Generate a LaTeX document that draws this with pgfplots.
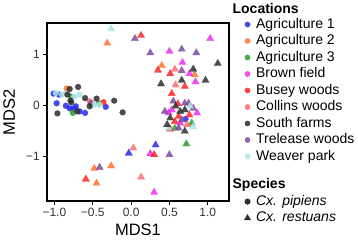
\documentclass[border=0pt]{standalone}
\usepackage{pgfplots}
\pgfplotsset{compat=1.18}
\usepackage{fontspec}
\setmainfont{Liberation Sans}
\definecolor{cA}{RGB}{40,40,235}
\definecolor{cB}{RGB}{255,115,45}
\definecolor{cC}{RGB}{40,155,50}
\definecolor{cD}{RGB}{238,45,238}
\definecolor{cE}{RGB}{250,35,35}
\definecolor{cF}{RGB}{250,110,110}
\definecolor{cG}{RGB}{45,45,45}
\definecolor{cH}{RGB}{125,75,160}
\definecolor{cI}{RGB}{170,228,225}
\pgfplotsset{
 pip/.style={only marks, mark=*, mark size=3bp, mark options={fill=#1, draw=#1, line width=0.1bp, opacity=0.85}, forget plot},
 res/.style={only marks, mark=triangle*, mark size=4.3bp, mark options={fill=#1, draw=#1, line width=0.1bp, opacity=0.85}, forget plot},
 lg/.style={only marks, mark=*, mark size=2.6bp, mark options={fill=#1, draw=#1, opacity=0.85}},
}
\begin{document}
\begin{tikzpicture}
\useasboundingbox (-46.7bp,-40bp) rectangle (311.3bp,201bp);
\begin{axis}[
 at={(0,0)}, anchor=south west, scale only axis,
 width=182.6bp, height=177.7bp,
 xmin=-1.1, xmax=1.28, ymin=-1.87, ymax=1.62,
 axis line style={line width=1.7bp, black},
 tick align=outside, xtick pos=bottom, ytick pos=left,
 major tick length=3.5bp, tick style={line width=0.8bp, black},
 xtick={-1,-0.5,0,0.5,1}, xticklabels={−1.0,−0.5,0.0,0.5,1.0},
 ytick={-1,0,1}, yticklabels={−1,0,1},
 ticklabel style={font=\fontsize{12bp}{13bp}\selectfont, text=black!80},
 xlabel={MDS1}, ylabel={MDS2},
 label style={font=\fontsize{16.5bp}{18bp}\selectfont},
 xlabel style={at={(axis description cs:0.5,-0.163)}, anchor=center},
 ylabel style={at={(axis description cs:-0.205,0.5)}, anchor=center},
 legend image code/.code={\draw[#1] plot coordinates {(2.6bp,0bp)};},
 legend style={at={(axis description cs:1.0816,1.1125)}, anchor=north west, draw=none, fill=none,
   font=\fontsize{14bp}{15bp}\selectfont, inner sep=0pt, row sep=3.5bp,
   nodes={inner sep=0pt, text height=10bp, text depth=3bp},
   column sep=0pt},
 legend cell align=left,
]
% Agriculture 1
\addplot[pip=cA] coordinates {(-1.01,0.24)(-0.94,0.22)(-0.97,0.05)(-0.85,0.0)(-0.80,-0.05)(-0.75,-0.05)(-0.72,-0.01)(-0.67,-0.11)(-0.60,-0.14)(-0.33,-0.02)(0.71,-0.26)};
\addplot[res=cA] coordinates {(0.32,-0.77)(-0.03,-0.93)};
% Agriculture 2
\addplot[pip=cB] coordinates {(-0.84,0.34)};
\addplot[res=cB] coordinates {(-0.31,1.23)(0.40,0.79)(0.83,0.61)(-0.26,-1.18)(-0.48,-1.23)(-0.45,-1.52)};
% Agriculture 3
\addplot[pip=cC] coordinates {(-0.78,0.18)(-0.76,-0.14)(-0.42,0.05)};
\addplot[res=cC] coordinates {(0.72,-0.75)(0.79,-0.34)(0.57,-0.44)};
% Brown field
\addplot[res=cD] coordinates {(1.03,1.32)(0.50,1.07)(0.67,0.85)(0.76,0.63)(0.84,0.47)(0.25,-0.94)(0.30,-1.70)(0.49,-0.14)(0.53,-0.08)(0.86,-0.14)(0.64,-0.34)};
% Busey woods
\addplot[pip=cE] coordinates {(-0.36,0.07)};
\addplot[res=cE] coordinates {(0.13,1.38)(0.35,0.70)(0.51,0.63)(0.70,0.38)(0.53,0.24)(0.30,-0.96)(-0.59,-1.44)(0.61,0.04)(0.62,-0.21)(0.76,-0.18)(0.51,-0.46)(0.57,-0.31)};
% Collins woods
\addplot[pip=cF] coordinates {(-0.54,0.09)};
\addplot[res=cF] coordinates {(0.57,0.72)(0.58,0.41)(0.03,-0.83)(0.13,-1.40)(0.73,-0.37)};
% Trelease woods
\addplot[pip=cH] coordinates {(-0.52,0.05)};
\addplot[res=cH] coordinates {(0.05,1.32)(0.25,1.04)(0.66,1.11)(0.85,1.04)(0.66,0.69)(0.50,-0.96)(-0.41,-1.21)(0.55,0.09)(0.70,0.05)(0.44,-0.11)(0.81,-0.05)(0.66,-0.28)(0.62,-0.44)(0.75,0.05)};
% Weaver park
\addplot[pip=cI] coordinates {(-0.98,0.25)(-0.90,0.22)(-0.85,0.24)(-0.74,0.18)(-0.67,0.22)(-0.48,0.02)(-0.41,0.02)};
\addplot[res=cI] coordinates {(-0.26,1.51)(0.77,-0.01)(0.81,-0.41)(0.49,-0.44)};
% South farms
\addplot[pip=cG] coordinates {(-0.69,0.37)(-0.80,0.33)(-0.83,0.22)(-0.79,0.10)(-0.78,0.07)(-0.70,-0.11)(-0.60,0.15)(-0.45,0.14)(-0.54,-0.01)(-0.22,0.10)(-0.11,-0.13)(-0.96,-0.15)};
\addplot[res=cG] coordinates {(1.13,0.83)(0.81,0.72)(0.97,0.50)(0.39,0.43)(0.66,0.50)(0.58,-0.01)(0.64,-0.11)(0.70,-0.08)(0.47,-0.37)(0.70,-0.50)(0.51,-0.24)};
% legend
\addlegendimage{empty legend}\addlegendentry[text depth=1bp]{\hspace*{-18bp}\textbf{Locations}}
\addlegendimage{lg=cA}\addlegendentry{\hspace*{5.5bp}Agriculture 1}
\addlegendimage{lg=cB}\addlegendentry{\hspace*{5.5bp}Agriculture 2}
\addlegendimage{lg=cC}\addlegendentry{\hspace*{5.5bp}Agriculture 3}
\addlegendimage{lg=cD}\addlegendentry{\hspace*{5.5bp}Brown field}
\addlegendimage{lg=cE}\addlegendentry{\hspace*{5.5bp}Busey woods}
\addlegendimage{lg=cF}\addlegendentry{\hspace*{5.5bp}Collins woods}
\addlegendimage{lg=cG}\addlegendentry{\hspace*{5.5bp}South farms}
\addlegendimage{lg=cH}\addlegendentry{\hspace*{5.5bp}Trelease woods}
\addlegendimage{lg=cI}\addlegendentry{\hspace*{5.5bp}Weaver park}
\addlegendimage{empty legend}\addlegendentry[text height=5.6bp]{}
\addlegendimage{empty legend}\addlegendentry{\hspace*{-18bp}\textbf{Species}}
\addlegendimage{only marks, mark=*, mark size=2.8bp, mark options={fill=cG, draw=cG}}\addlegendentry{\hspace*{5.5bp}\textit{Cx. pipiens}}
\addlegendimage{only marks, mark=triangle*, mark size=3.6bp, mark options={fill=cG, draw=cG}}\addlegendentry{\hspace*{5.5bp}\textit{Cx. restuans}}
\end{axis}
\end{tikzpicture}
\end{document}
